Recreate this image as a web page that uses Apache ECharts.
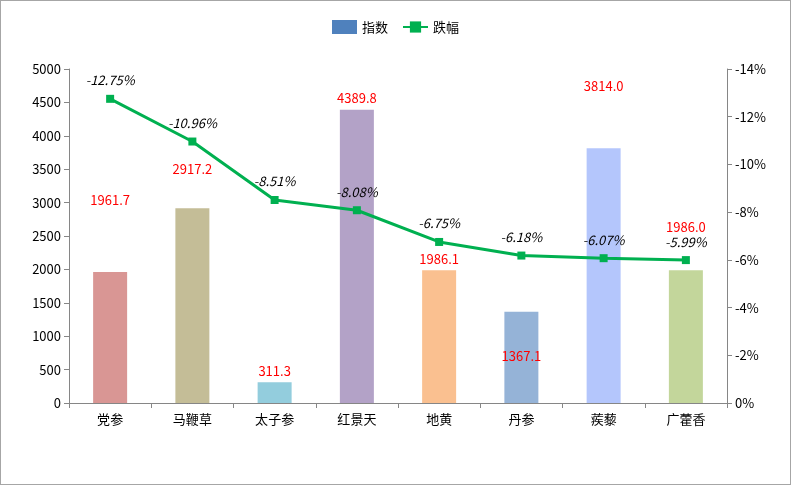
<!DOCTYPE html>
<html>
<head>
<meta charset="UTF-8">
<script src="https://cdn.jsdelivr.net/npm/echarts@6/dist/echarts.min.js"></script>
<style>
html,body{margin:0;padding:0;background:#fff;}
#main{width:789px;height:483px;border:1px solid #a6a6a6;}
</style>
</head>
<body>
<div id="main"></div>
<script>
var categories = ['党参','马鞭草','太子参','红景天','地黄','丹参','蒺藜','广藿香'];
var indexValues = [1961.7, 2917.2, 311.3, 4389.8, 1986.1, 1367.1, 3814.0, 1986.0];
var dropValues = [-12.75, -10.96, -8.51, -8.08, -6.75, -6.18, -6.07, -5.99];
var barColors = ['#d99694','#c4bd97','#93cddd','#b3a2c7','#fac090','#95b3d7','#b4c6fc','#c3d69b'];
var barLabelOffsets = [[0,-60],[0,-28],[0,0],[0,0],[0,0],[0,56],[0,-51],[0,-32]];

var chart = echarts.init(document.getElementById('main'));
var font = '"Microsoft YaHei","Noto Sans CJK SC",sans-serif';
chart.setOption({
    textStyle:{fontFamily:font},
    legend:{
        top:14,
        itemGap:14,
        textStyle:{fontSize:13,color:'#000'},
        data:[{name:'指数',icon:'rect'},{name:'跌幅'}]
    },
    grid:{left:68,right:63,top:68,bottom:81},
    xAxis:{
        type:'category',
        data:categories,
        axisLine:{lineStyle:{color:'#868686'}},
        axisTick:{show:true,lineStyle:{color:'#868686'}},
        axisLabel:{color:'#000',fontSize:13,margin:10}
    },
    yAxis:[{
        type:'value',min:0,max:5000,interval:500,
        axisLine:{show:true,lineStyle:{color:'#868686'}},
        axisTick:{show:true,lineStyle:{color:'#868686'}},
        splitLine:{show:false},
        axisLabel:{color:'#000',fontSize:13,formatter:function(v){return String(v);}}
    },{
        type:'value',min:-14,max:0,interval:2,inverse:true,
        axisLine:{show:true,lineStyle:{color:'#868686'}},
        axisTick:{show:true,lineStyle:{color:'#868686'}},
        splitLine:{show:false},
        axisLabel:{color:'#000',fontSize:13,formatter:function(v){return v+'%';}}
    }],
    series:[{
        name:'指数',type:'bar',barWidth:34,
        itemStyle:{color:'#4f81bd'},
        data:indexValues.map(function(v,i){
            return {value:v,itemStyle:{color:barColors[i]},
                label:{show:true,position:'top',offset:barLabelOffsets[i],color:'#ff0000',fontSize:13,
                    formatter:function(p){return p.value.toFixed(1);}}};
        })
    },{
        name:'跌幅',type:'line',yAxisIndex:1,z:3,
        symbol:'rect',symbolSize:8,
        lineStyle:{color:'#00b050',width:3},
        itemStyle:{color:'#00b050'},
        label:{show:true,position:'top',distance:8,color:'#000',fontSize:13,fontStyle:'italic',
            formatter:function(p){return p.value.toFixed(2)+'%';}},
        data:dropValues
    }]
});
</script>
</body>
</html>
